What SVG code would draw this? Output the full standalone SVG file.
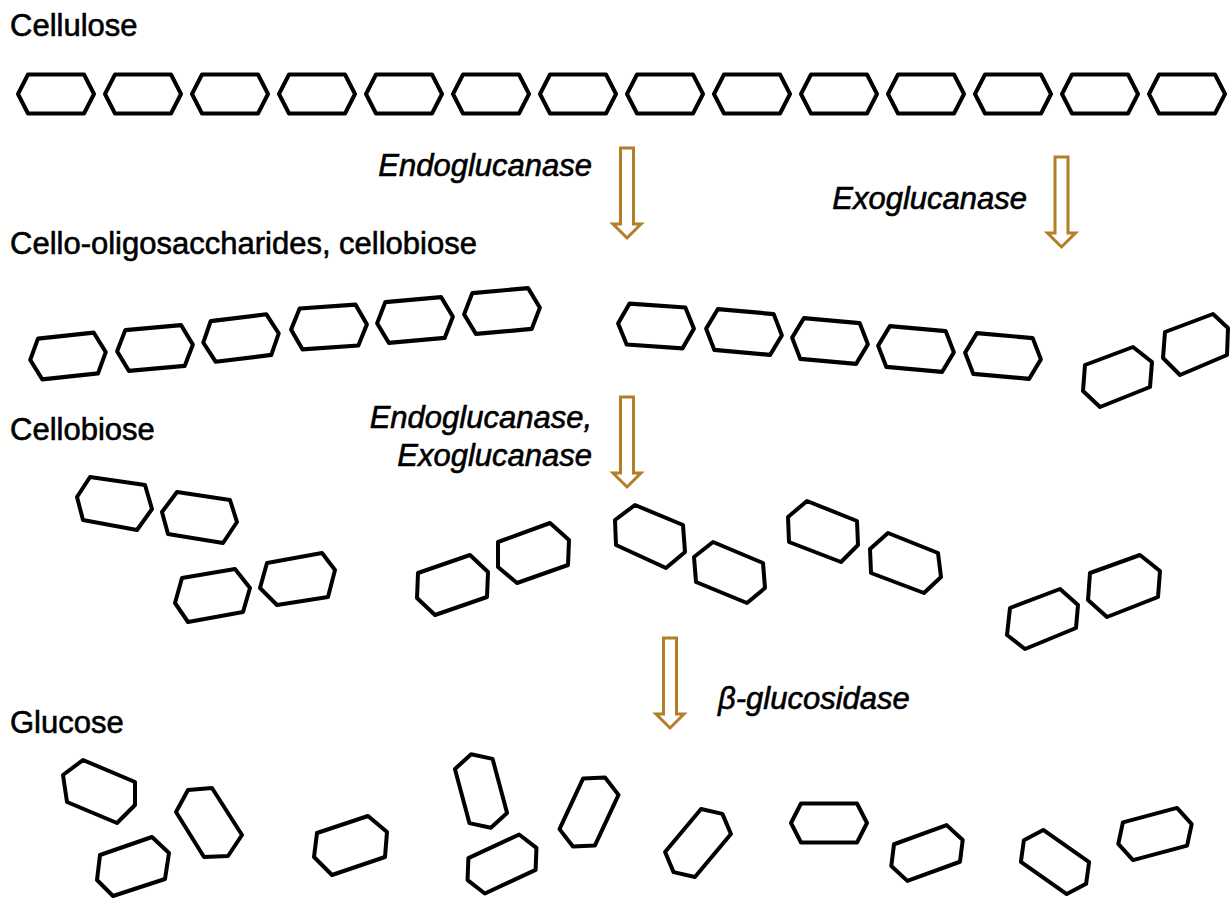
<svg xmlns="http://www.w3.org/2000/svg" xmlns:xlink="http://www.w3.org/1999/xlink" width="1231" height="899" viewBox="0 0 1231 899">
<style>
.hx{fill:none;stroke:#000;stroke-width:4;stroke-linejoin:round}
.lbl{font-family:"Liberation Sans",Arial,sans-serif;font-size:31px;fill:#000;stroke:#000;stroke-width:0.6}
.it{font-family:"Liberation Sans",Arial,sans-serif;font-size:31px;font-style:italic;fill:#000;stroke:#000;stroke-width:0.6}
.arr{fill:#fff;stroke:#B47D28;stroke-width:3;stroke-linejoin:miter}
</style>
<defs>
<polygon id="hex" class="hx" points="-38,0 -28,-19.5 28,-19.5 38,0 28,19.5 -28,19.5"/>
<path id="arrow" class="arr" d="M-6.5,0 H6.5 V76 H14 L0,90 L-14,76 H-6.5 Z"/>
</defs>
<rect width="1231" height="899" fill="#fff"/>

<g id="labels">
<text class="lbl" x="10" y="36">Cellulose</text>
<text class="lbl" x="10" y="254">Cello-oligosaccharides, cellobiose</text>
<text class="lbl" x="10" y="440">Cellobiose</text>
<text class="lbl" x="10" y="733">Glucose</text>
<text class="it" x="592" y="176" text-anchor="end">Endoglucanase</text>
<text class="it" x="1027" y="209" text-anchor="end">Exoglucanase</text>
<text class="it" x="592" y="428" text-anchor="end">Endoglucanase,</text>
<text class="it" x="592" y="466" text-anchor="end">Exoglucanase</text>
<text class="it" x="718" y="709">β-glucosidase</text>
</g>

<g id="connectors">
<use xlink:href="#arrow" transform="translate(627,148)"/>
<use xlink:href="#arrow" transform="translate(1061.5,157)"/>
<use xlink:href="#arrow" transform="translate(627,397)"/>
<use xlink:href="#arrow" transform="translate(670,638)"/>
</g>

<g id="cellulose">
<use xlink:href="#hex" transform="translate(56,94)"/>
<use xlink:href="#hex" transform="translate(143,94)"/>
<use xlink:href="#hex" transform="translate(230,94)"/>
<use xlink:href="#hex" transform="translate(317,94)"/>
<use xlink:href="#hex" transform="translate(404,94)"/>
<use xlink:href="#hex" transform="translate(491,94)"/>
<use xlink:href="#hex" transform="translate(578,94)"/>
<use xlink:href="#hex" transform="translate(665,94)"/>
<use xlink:href="#hex" transform="translate(752,94)"/>
<use xlink:href="#hex" transform="translate(839,94)"/>
<use xlink:href="#hex" transform="translate(926,94)"/>
<use xlink:href="#hex" transform="translate(1013,94)"/>
<use xlink:href="#hex" transform="translate(1100,94)"/>
<use xlink:href="#hex" transform="translate(1187,94)"/>
</g>

<g id="oligosaccharides">
<use xlink:href="#hex" transform="translate(68,356) rotate(-6) scale(1,1.05)"/>
<use xlink:href="#hex" transform="translate(155,348) rotate(-5) scale(1,1.05)"/>
<use xlink:href="#hex" transform="translate(241,338) rotate(-7) scale(1,1.05)"/>
<use xlink:href="#hex" transform="translate(329,327) rotate(-4) scale(1,1.05)"/>
<use xlink:href="#hex" transform="translate(415,320) rotate(-5) scale(1,1.05)"/>
<use xlink:href="#hex" transform="translate(502,311) rotate(-5) scale(1,1.05)"/>
<use xlink:href="#hex" transform="translate(656,326) rotate(4) scale(1,1.05)"/>
<use xlink:href="#hex" transform="translate(744,332) rotate(5) scale(1,1.05)"/>
<use xlink:href="#hex" transform="translate(830,341) rotate(5) scale(1,1.05)"/>
<use xlink:href="#hex" transform="translate(916,349) rotate(5) scale(1,1.05)"/>
<use xlink:href="#hex" transform="translate(1003,356) rotate(5) scale(1,1.05)"/>
<polygon class="hx" points="1085,365 1133,347 1152,362 1150,387 1100,407 1083,391"/>
<polygon class="hx" points="1165,332 1213,314 1228,328 1227,355 1180,375 1163,358"/>
</g>

<g id="cellobiose">
<polygon class="hx" points="90,477 145,485 152,509 137,530 83,520 77,497"/>
<polygon class="hx" points="177,492 230,500 237,522 223,543 168,534 162,512"/>
<polygon class="hx" points="182,578 235,569 250,588 243,612 188,622 175,603"/>
<polygon class="hx" points="267,563 322,553 335,570 328,597 277,605 260,588"/>
<polygon class="hx" points="418,573 470,555 488,572 487,597 435,615 417,598"/>
<polygon class="hx" points="498,542 550,523 569,540 568,565 517,583 498,567"/>
<polygon class="hx" points="635,505 683,525 685,552 666,568 616,545 615,520"/>
<polygon class="hx" points="713,542 763,563 765,588 747,603 696,582 694,557"/>
<polygon class="hx" points="807,501 857,521 858,545 841,562 789,542 788,517"/>
<polygon class="hx" points="888,533 938,553 941,577 924,593 871,573 870,549"/>
<polygon class="hx" points="1010,608 1060,589 1078,605 1076,628 1025,649 1007,635"/>
<polygon class="hx" points="1090,573 1140,555 1160,571 1158,597 1107,617 1088,600"/>
</g>

<g id="glucose">
<polygon class="hx" points="83,760 135,782 135,805 117,823 67,802 63,775"/>
<polygon class="hx" points="100,855 152,837 169,853 165,879 113,896 97,880"/>
<polygon class="hx" points="188,790 212,788 242,835 228,856 204,857 176,812"/>
<polygon class="hx" points="317,833 368,816 387,832 385,857 332,875 314,857"/>
<use xlink:href="#hex" transform="translate(481,791) rotate(75)"/>
<use xlink:href="#hex" transform="translate(502,864) rotate(-25)"/>
<use xlink:href="#hex" transform="translate(589,812) rotate(-65)"/>
<use xlink:href="#hex" transform="translate(698,843) rotate(-50)"/>
<use xlink:href="#hex" transform="translate(829,823)"/>
<use xlink:href="#hex" transform="translate(927,853) rotate(-20)"/>
<use xlink:href="#hex" transform="translate(1055,862) rotate(35)"/>
<use xlink:href="#hex" transform="translate(1155,834) rotate(-15)"/>
</g>
</svg>
